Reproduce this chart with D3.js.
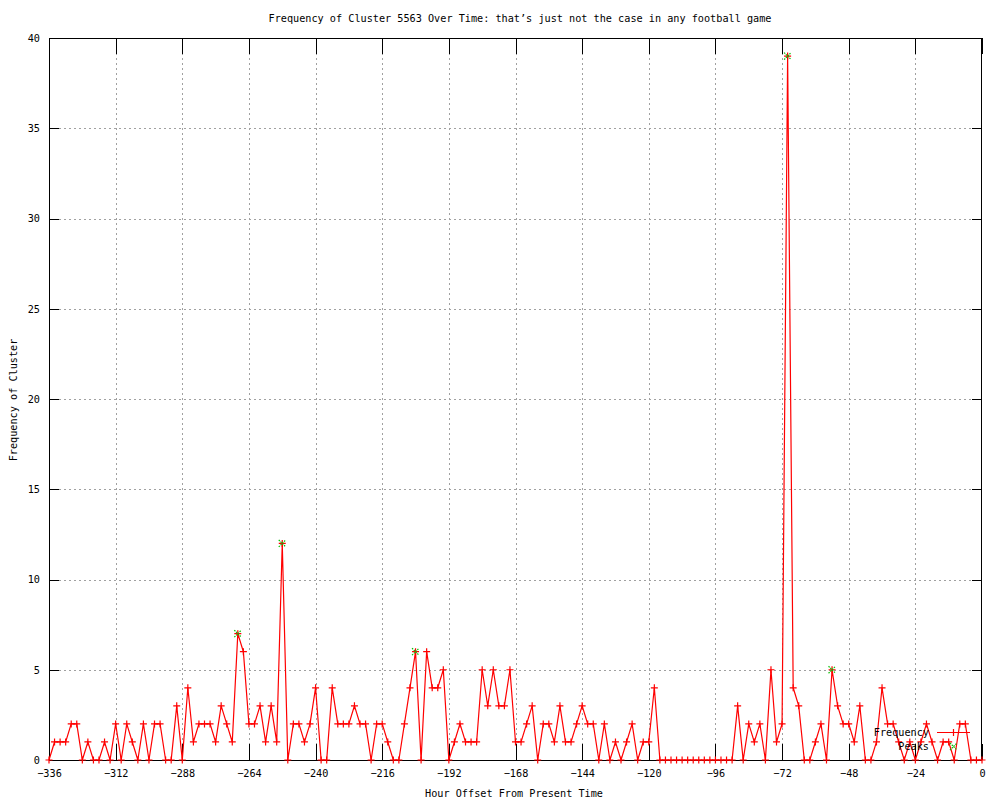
<!DOCTYPE html>
<html><head><meta charset="utf-8">
<script src="https://cdn.jsdelivr.net/npm/d3@7"></script>
<style>
body{margin:0;background:#fff;}
svg{display:block;font-family:"DejaVu Sans Mono",monospace;}
</style></head>
<body>
<svg id="c" width="1000" height="800"></svg>
<script>
const hours = [-336,-334,-332,-330,-328,-326,-324,-322,-320,-318,
-316,-314,-312,-310,-308,-306,-304,-302,-300,-298,
-296,-294,-292,-290,-288,-286,-284,-282,-280,-278,
-276,-274,-272,-270,-268,-266,-264,-262,-260,-258,
-256,-254,-252,-250,-248,-246,-244,-242,-240,-238,
-236,-234,-232,-230,-228,-226,-224,-222,-220,-218,
-216,-214,-212,-210,-208,-206,-204,-202,-200,-198,
-196,-194,-192,-190,-188,-186,-184,-182,-180,-178,
-176,-174,-172,-170,-168,-166,-164,-162,-160,-158,
-156,-154,-152,-150,-148,-146,-144,-142,-140,-138,
-136,-134,-132,-130,-128,-126,-124,-122,-120,-118,
-116,-114,-112,-110,-108,-106,-104,-102,-100,-98,
-96,-94,-92,-90,-88,-86,-84,-82,-80,-78,
-76,-74,-72,-70,-68,-66,-64,-62,-60,-58,
-56,-54,-52,-50,-48,-46,-44,-42,-40,-38,
-36,-34,-32,-30,-28,-26,-24,-22,-20,-18,
-16,-14,-12,-10,-8,-6,-4,-2,0];
const frequency = [0,1,1,1,2,2,0,1,0,0,
1,0,2,0,2,1,0,2,0,2,
2,0,0,3,0,4,1,2,2,2,
1,3,2,1,7,6,2,2,3,1,
3,1,12,0,2,2,1,2,4,0,
0,4,2,2,2,3,2,2,0,2,
2,1,0,0,2,4,6,0,6,4,
4,5,0,1,2,1,1,1,5,3,
5,3,3,5,1,1,2,3,0,2,
2,1,3,1,1,2,3,2,2,0,
2,0,1,0,1,2,0,1,1,4,
0,0,0,0,0,0,0,0,0,0,
0,0,0,0,3,0,2,1,2,0,
5,1,2,39,4,3,0,0,1,2,
0,5,3,2,2,1,3,0,0,1,
4,2,2,1,0,1,0,1,2,1,
0,1,1,0,2,2,0,0,0];
const peakHours = [-268,-252,-204,-70,-54];
const peakValues = [7,12,6,39,5];
const xTicks = [-336,-312,-288,-264,-240,-216,-192,-168,-144,-120,-96,-72,-48,-24,0];
const yTicks = [0,5,10,15,20,25,30,35,40];
const titleText = "Frequency of Cluster 5563 Over Time: that\u2019s just not the case in any football game";

const L=49, R=982, T=38, B=760;
const svg = d3.select("#c");
const x = d3.scaleLinear().domain([-336,0]).range([L,R]);
const y = d3.scaleLinear().domain([0,40]).range([B,T]);
const fs = 10.2;

// grid
const g = svg.append("g").attr("shape-rendering","crispEdges");
g.selectAll(".gx").data(xTicks.slice(1,-1)).join("line")
  .attr("x1",d=>Math.round(x(d))+0.5).attr("x2",d=>Math.round(x(d))+0.5)
  .attr("y1",T).attr("y2",B).attr("stroke","#a0a0a0").attr("stroke-dasharray","2,3");
g.selectAll(".gy").data(yTicks.slice(1,-1)).join("line")
  .attr("y1",d=>Math.round(y(d))+0.5).attr("y2",d=>Math.round(y(d))+0.5)
  .attr("x1",L).attr("x2",R).attr("stroke","#a0a0a0").attr("stroke-dasharray","2,3");

// axes via d3
const xAxisB = d3.axisBottom(x).tickValues(xTicks).tickSizeInner(-16).tickSizeOuter(0).tickPadding(10).tickFormat(d3.format("d"));
const xAxisT = d3.axisTop(x).tickValues(xTicks).tickSizeInner(-16).tickSizeOuter(0).tickFormat("");
const yAxisL = d3.axisLeft(y).tickValues(yTicks).tickSizeInner(-10).tickSizeOuter(0).tickPadding(9);
const yAxisR = d3.axisRight(y).tickValues(yTicks).tickSizeInner(-10).tickSizeOuter(0).tickFormat("");
function style(sel){
  sel.select(".domain").remove();
  sel.selectAll("line").attr("stroke","#000").attr("shape-rendering","crispEdges");
  sel.selectAll("text").attr("font-family","DejaVu Sans Mono, monospace").attr("font-size",fs).attr("fill","#000");
}
svg.append("g").attr("transform",`translate(0,${B})`).call(xAxisB).call(style);
svg.append("g").attr("transform",`translate(0,${T})`).call(xAxisT).call(style);
svg.append("g").attr("transform",`translate(${L},0)`).call(yAxisL).call(style);
svg.append("g").attr("transform",`translate(${R},0)`).call(yAxisR).call(style);

// border
svg.append("rect").attr("x",L+0.5).attr("y",T+0.5).attr("width",R-L-1).attr("height",B-T)
  .attr("fill","none").attr("stroke","#000").attr("shape-rendering","crispEdges");

// data line
const pts = hours.map((h,i)=>[h,frequency[i]]);
svg.append("path").datum(pts)
  .attr("d",d3.line().x(d=>x(d[0])).y(d=>y(d[1])))
  .attr("fill","none").attr("stroke","#ff0000").attr("stroke-width",1.2);
const s=3.5;
svg.append("g").selectAll("path").data(pts).join("path")
  .attr("d",d=>{const px=x(d[0]),py=y(d[1]);return `M${px-s},${py}H${px+s}M${px},${py-s}V${py+s}`;})
  .attr("stroke","#ff0000").attr("stroke-width",1.2).attr("fill","none");

// peaks
const peaks = peakHours.map((h,i)=>[h,peakValues[i]]);
function xMark(px,py){return `M${px-s},${py-s}L${px+s},${py+s}M${px-s},${py+s}L${px+s},${py-s}`;}
svg.append("g").selectAll("path").data(peaks).join("path")
  .attr("d",d=>xMark(x(d[0]),y(d[1])))
  .attr("stroke","#00c000").attr("stroke-width",1.2).attr("stroke-dasharray","1.5,1").attr("fill","none");

// legend
svg.append("text").attr("x",929).attr("y",736).attr("text-anchor","end").attr("font-size",fs).text("Frequency");
svg.append("line").attr("x1",937).attr("x2",970).attr("y1",732.5).attr("y2",732.5).attr("stroke","#ff0000").attr("stroke-width",1.2);
svg.append("path").attr("d",`M${953.5-s},732.5H${953.5+s}M953.5,${732.5-s}V${732.5+s}`).attr("stroke","#ff0000").attr("stroke-width",1.2);
svg.append("text").attr("x",929).attr("y",750).attr("text-anchor","end").attr("font-size",fs).text("Peaks");
svg.append("path").attr("d",xMark(953.5,746.5)).attr("stroke","#00c000").attr("stroke-width",1.2).attr("stroke-dasharray","1.5,1").attr("fill","none");

// titles
svg.append("text").attr("x",520).attr("y",22).attr("text-anchor","middle").attr("font-size",fs).text(titleText);
svg.append("text").attr("x",514).attr("y",797).attr("text-anchor","middle").attr("font-size",fs).text("Hour Offset From Present Time");
svg.append("text").attr("transform","translate(17,400) rotate(-90)").attr("text-anchor","middle").attr("font-size",fs).text("Frequency of Cluster");
</script>
</body></html>
